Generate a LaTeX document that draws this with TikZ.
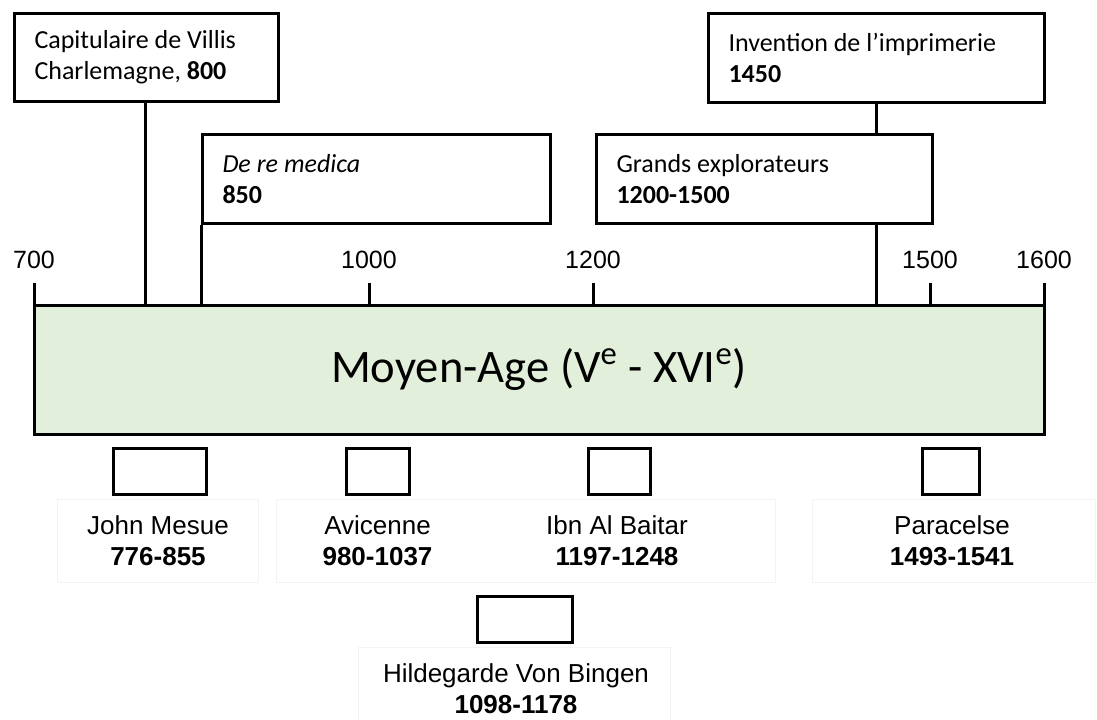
\documentclass[tikz,border=0pt]{standalone}
\usepackage{fontspec}
\setmainfont{Carlito}
\newfontfamily\arialfont{Liberation Sans}
\usepackage{tikz}
\usetikzlibrary{positioning}
\definecolor{BarFill}{HTML}{E2EFDA}
\definecolor{GhostLine}{HTML}{F3F3F3}

\begin{document}
\begin{tikzpicture}[
    x=0.5pt, y=-0.5pt,
    event/.style={draw, line width=1.5pt, anchor=north west, inner xsep=10pt,
      align=flush left, font=\fontsize{13}{15.5}\selectfont},
    stem/.style={line width=1.5pt},
    lifebox/.style={draw, line width=1.5pt, minimum height=23pt},
    ghost/.style={draw=GhostLine, line width=0.5pt},
    who/.style={align=center, font=\arialfont\fontsize{13}{15.5}\selectfont},
    yearlbl/.style={anchor=base, font=\arialfont\fontsize{12.5}{15}\selectfont}
  ]
  \useasboundingbox (0,0) rectangle (1097,719);

  % la frise
  \node[
    draw,
    line width=1.5pt,
    fill=BarFill,
    minimum width=505pt,
    minimum height=64.5pt,
    font=\fontsize{23.3}{28}\selectfont
  ] (bar) at (539,369.5) {Moyen-Age (V\textsuperscript{e} - XVI\textsuperscript{e})};

  % graduations
  \foreach \x/\yr in {34/700, 369/1000, 593/1200, 930/1500, 1044/1600}{
    \coordinate (t\yr) at (\x,305);
    \draw[stem] (t\yr) -- ++(0,-22);
    \node[yearlbl] (l\yr) at (\x,268) {\yr};
  }

  % evenements
  \node[event, minimum width=132pt, minimum height=44pt, text width=112pt] (cap) at (13,12)
    {Capitulaire de Villis\\Charlemagne, \textbf{800}};
  \node[event, minimum width=174pt, minimum height=44.5pt, text width=154pt] (med) at (201,133)
    {\textit{De re medica}\\\textbf{850}};
  \node[event, minimum width=168pt, minimum height=44.5pt, text width=148pt] (inv) at (707,12)
    {Invention de l’imprimerie\\\textbf{1450}};
  \node[event, minimum width=168pt, minimum height=44.5pt, text width=148pt] (expl) at (595,133)
    {Grands explorateurs\\\textbf{1200-1500}};

  \coordinate (y800) at (145,305);
  \coordinate (y1450) at (876,305);
  \draw[stem] (cap.south -| y800) -- (y800);
  \draw[stem] (med.south west) -- (med.south west |- bar.north);
  \draw[stem] (inv.south -| y1450) -- (expl.north -| y1450);
  \draw[stem] (expl.south -| y1450) -- (y1450);

  % cadres pales
  \draw[ghost] (57,499) rectangle (258,582);
  \draw[ghost] (276,499) rectangle (775,582);
  \draw[ghost] (812,499) rectangle (1095,582);
  \draw[ghost] (358,647) rectangle (670,730);

  % personnages
  \node[lifebox, minimum width=46.5pt] (mesue) at (159.5,471) {};
  \node[lifebox, minimum width=31.5pt] (avic) at (377.5,471) {};
  \node[lifebox, minimum width=31pt] (baitar) at (619,471) {};
  \node[lifebox, minimum width=28.5pt] (parac) at (950.5,471) {};
  \node[lifebox, minimum width=47.5pt] (hild) at (524.5,619) {};

  \node[who] (mesue-txt) at (158,541) {John Mesue\\\textbf{776-855}};
  \node[who] (avic-txt) at (377.5,541) {Avicenne\\\textbf{980-1037}};
  \node[who] (baitar-txt) at (617,541) {Ibn Al Baitar\\\textbf{1197-1248}};
  \node[who] (parac-txt) at (952,541) {Paracelse\\\textbf{1493-1541}};
  \node[who] (hild-txt) at (516,689) {Hildegarde Von Bingen\\\textbf{1098-1178}};
\end{tikzpicture}
\end{document}
